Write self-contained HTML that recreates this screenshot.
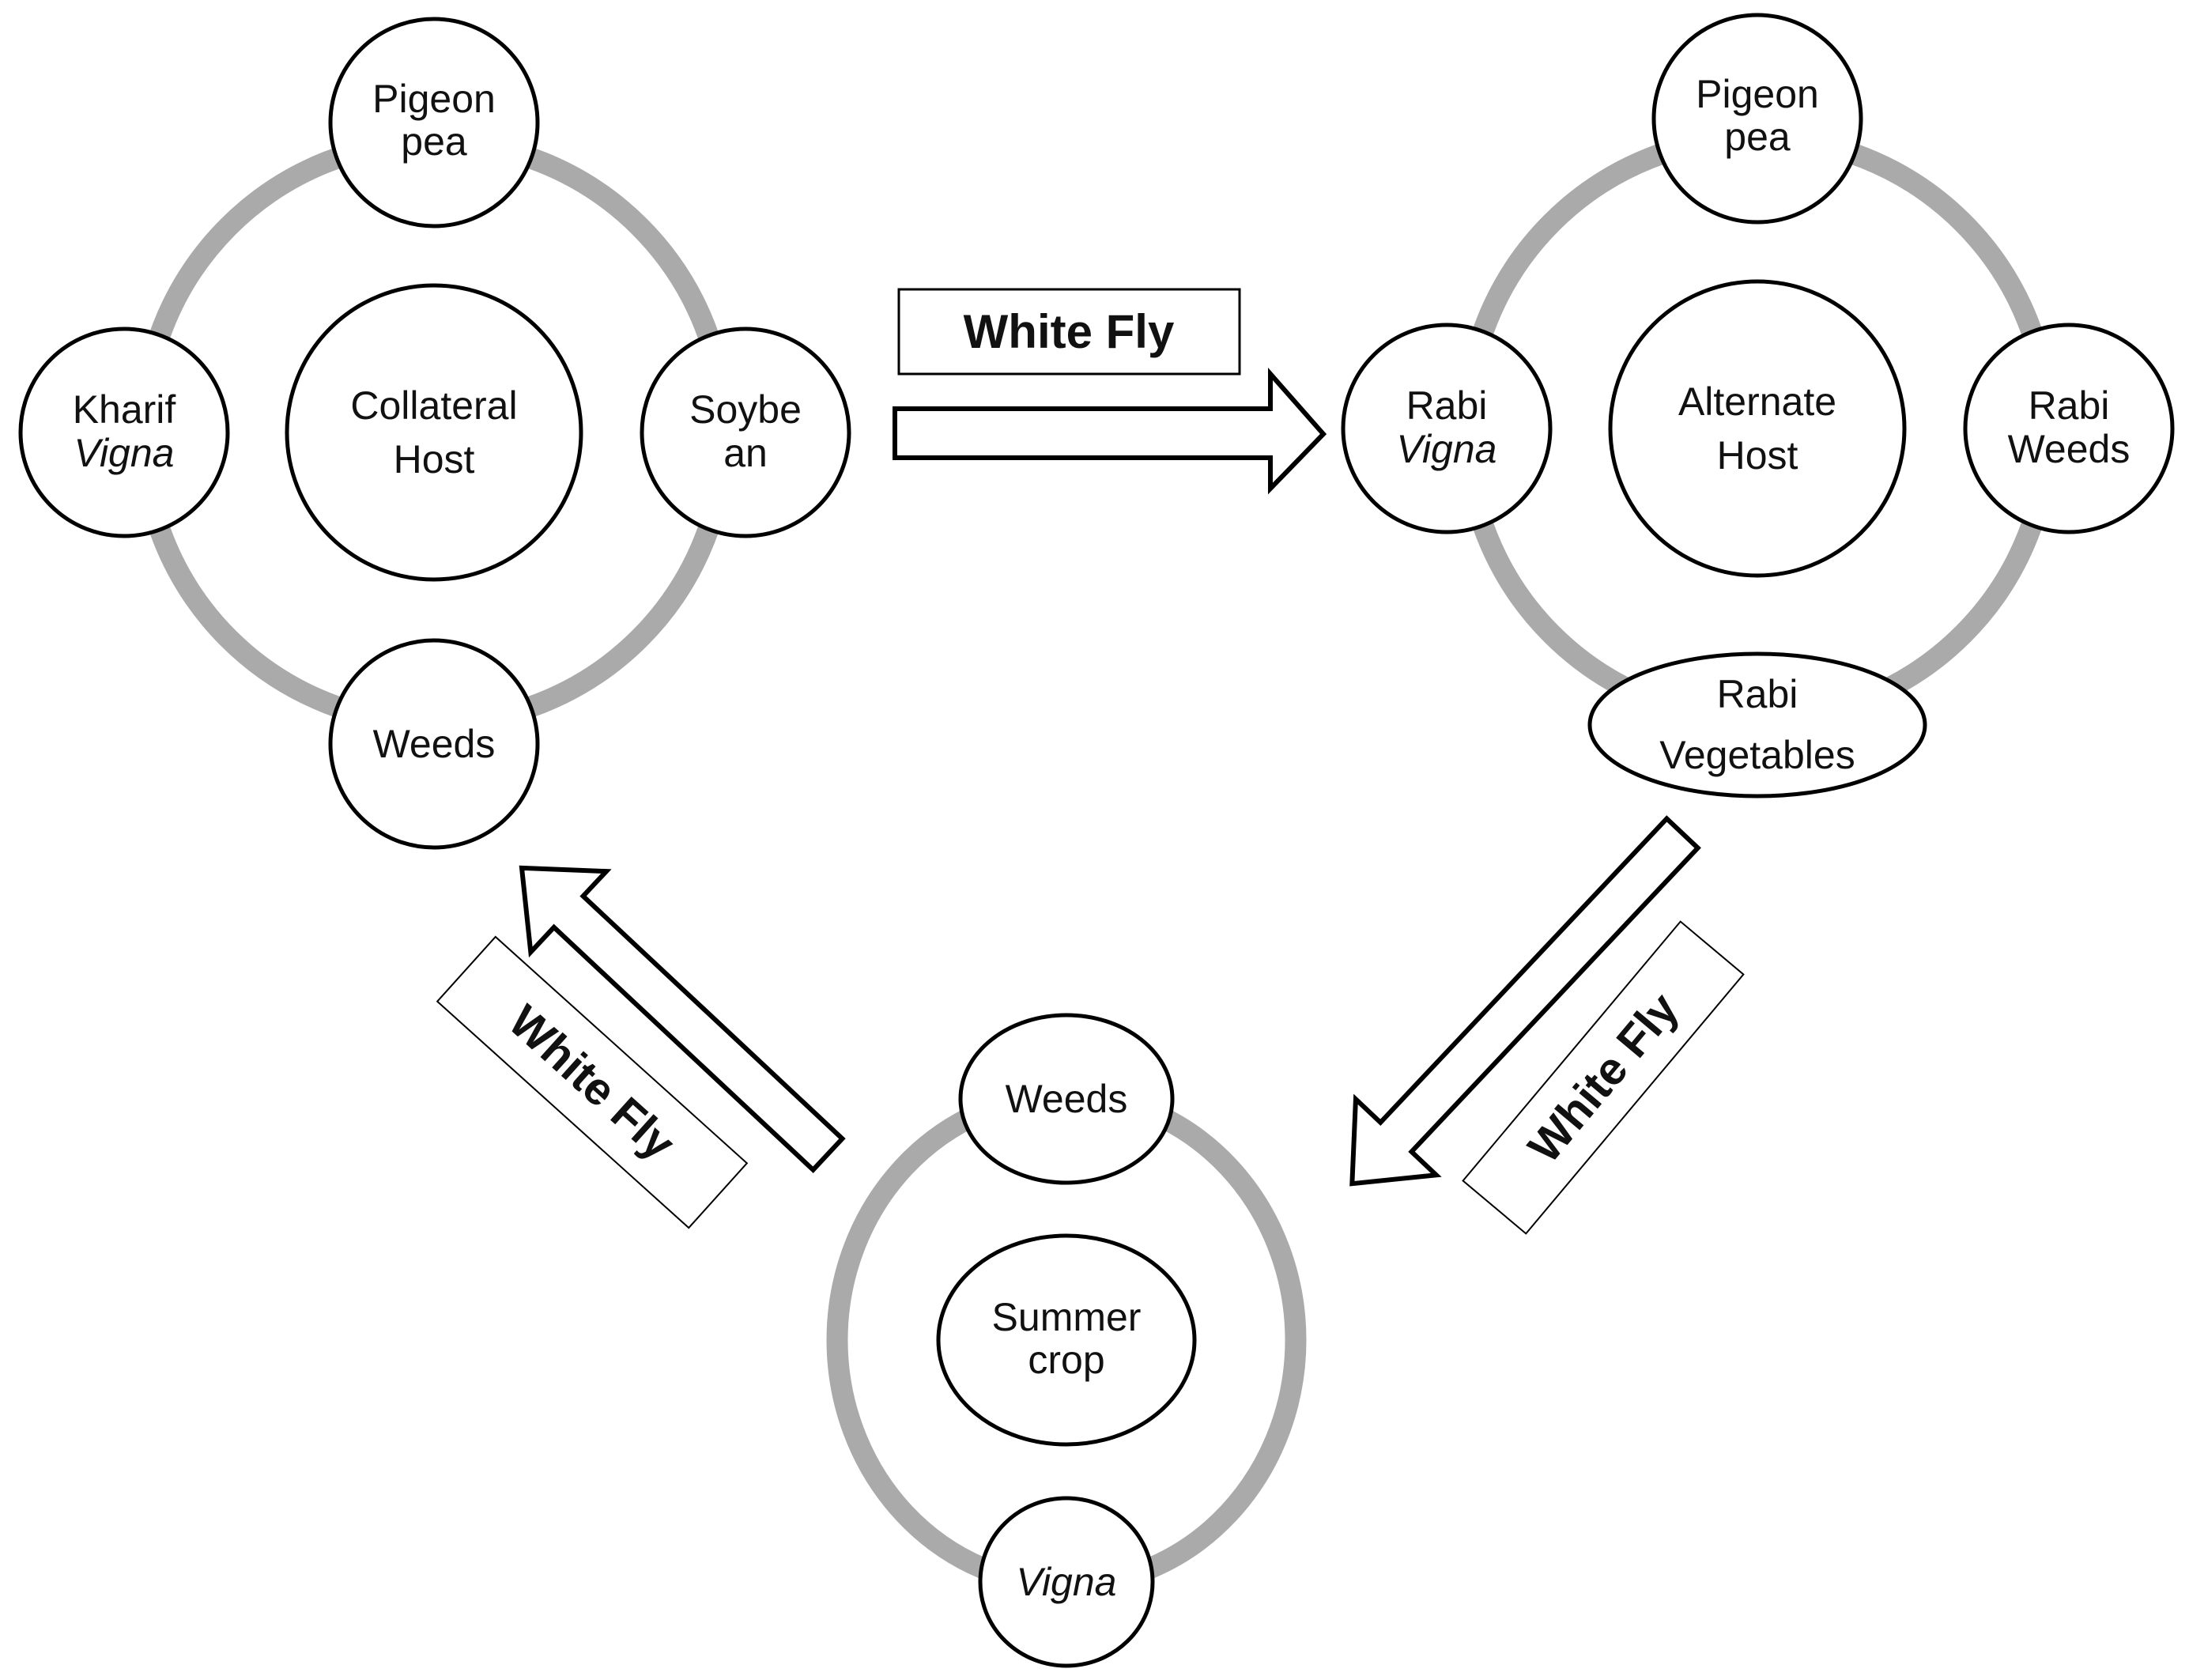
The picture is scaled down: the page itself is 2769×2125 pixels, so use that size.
<!DOCTYPE html>
<html><head><meta charset="utf-8"><style>html,body{margin:0;padding:0;background:#fff}svg{display:block}text{font-family:"Liberation Sans",Arial,sans-serif;fill:#111}</style></head>
<body>
<svg width="2769" height="2125" viewBox="0 0 2769 2125" xmlns="http://www.w3.org/2000/svg">
<g fill="none" stroke="#aaaaaa" stroke-width="27">
<circle cx="549" cy="547" r="368"/>
<circle cx="2223" cy="542" r="368"/>
<ellipse cx="1349" cy="1695" rx="290" ry="310"/>
</g>
<g fill="#fff" stroke="#000" stroke-width="5">
<circle cx="549" cy="155" r="131"/><circle cx="157" cy="547" r="131"/><circle cx="943" cy="547" r="131"/><circle cx="549" cy="941" r="131"/><circle cx="549" cy="547" r="186"/>
<circle cx="2223" cy="150" r="131"/><circle cx="1830" cy="542" r="131"/><circle cx="2617" cy="542" r="131"/><ellipse cx="2223" cy="917" rx="212" ry="90"/><circle cx="2223" cy="542" r="186"/>
<ellipse cx="1349" cy="1390" rx="134" ry="106"/><ellipse cx="1349" cy="1695" rx="162" ry="132"/><ellipse cx="1349" cy="2001" rx="109" ry="106"/>
</g>
<g font-size="50" text-anchor="middle">
<text x="549" y="142">Pigeon</text><text x="549" y="196">pea</text>
<text x="157" y="535">Kharif</text><text x="157" y="590" font-style="italic">Vigna</text>
<text x="549" y="530">Collateral</text><text x="549" y="598">Host</text>
<text x="943" y="535">Soybe</text><text x="943" y="590">an</text>
<text x="549" y="958">Weeds</text>
<text x="2223" y="136">Pigeon</text><text x="2223" y="190">pea</text>
<text x="1830" y="530">Rabi</text><text x="1830" y="585" font-style="italic">Vigna</text>
<text x="2223" y="525">Alternate</text><text x="2223" y="593">Host</text>
<text x="2617" y="530">Rabi</text><text x="2617" y="585">Weeds</text>
<text x="2223" y="895">Rabi</text><text x="2223" y="972">Vegetables</text>
<text x="1349" y="1407">Weeds</text>
<text x="1349" y="1683">Summer</text><text x="1349" y="1737">crop</text>
<text x="1349" y="2018" font-style="italic">Vigna</text>
</g>
<rect x="1137" y="366" width="431" height="107" fill="#fff" stroke="#000" stroke-width="3"/>
<text x="1352" y="440" font-size="60" font-weight="bold" text-anchor="middle">White Fly</text>
<g fill="#fff" stroke="#000" stroke-width="6" stroke-linejoin="miter">
<polygon points="1132,517 1607,517 1607,473 1674,549 1607,618 1607,579 1132,579"/>
<polygon transform="translate(2128,1054) rotate(133.3)" points="0,-27 528,-27 528,-70 609,0 528,70 528,27 0,27"/>
<polygon transform="translate(1047,1460) rotate(-136.9)" points="0,-27 449,-27 449,-70 530,0 449,70 449,27 0,27"/>
</g>
<g transform="translate(749,1369) rotate(42)">
<rect x="-214" y="-55" width="428" height="110" fill="#fff" stroke="#000" stroke-width="2"/>
<text x="0" y="20" font-size="58" font-weight="bold" text-anchor="middle">White Fly</text>
</g>
<g transform="translate(2028,1363) rotate(-50)">
<rect x="-214" y="-52" width="428" height="104" fill="#fff" stroke="#000" stroke-width="2"/>
<text x="0" y="20" font-size="58" font-weight="bold" text-anchor="middle">White Fly</text>
</g>
</svg>
</body></html>
